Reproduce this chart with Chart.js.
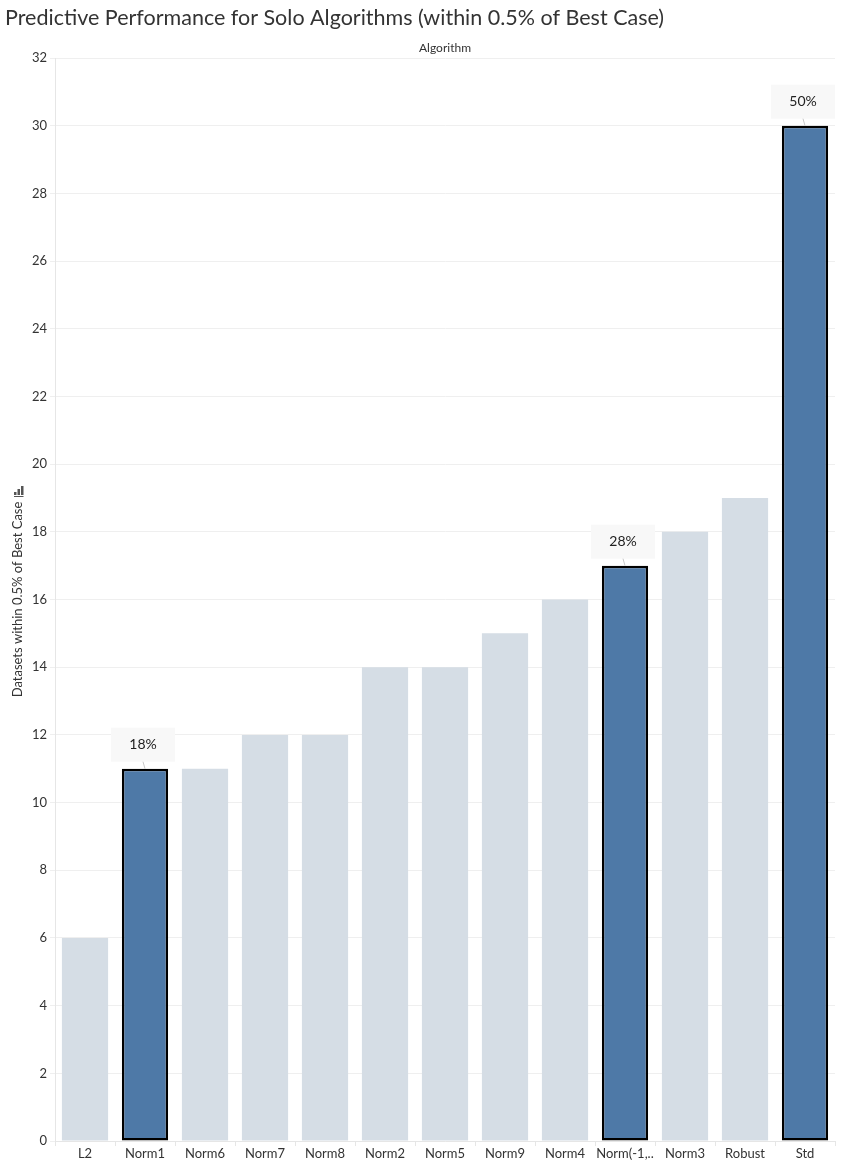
<!DOCTYPE html>
<html>
<head>
<meta charset="utf-8">
<script src="https://cdn.jsdelivr.net/npm/chart.js@4"></script>
<style>
  html, body { margin: 0; padding: 0; background: #fff; }
  #wrap { width: 843px; height: 1165px; position: relative; }
</style>
</head>
<body>
<div id="wrap"><canvas id="solo-chart"></canvas></div>
<script>
const algorithms = ['L2', 'Norm1', 'Norm6', 'Norm7', 'Norm8', 'Norm2', 'Norm5', 'Norm9', 'Norm4', 'Norm(-1,..', 'Norm3', 'Robust', 'Std'];
const datasetCounts = [6, 11, 11, 12, 12, 14, 14, 15, 16, 17, 18, 19, 30];
const highlighted = [false, true, false, false, false, false, false, false, false, true, false, false, true];
const pctLabels = [null, '18%', null, null, null, null, null, null, null, '28%', null, null, '50%'];
const yTicks = [0, 2, 4, 6, 8, 10, 12, 14, 16, 18, 20, 22, 24, 26, 28, 30, 32];

const FONT = 'Lato, "Noto Sans", sans-serif';
const BLUE = '#4e79a7';
const GREY = '#d5dde5';

// titles and the little callout boxes over highlighted bars
const extras = {
    id: 'extras',
    afterDraw(chart) {
        const ctx = chart.ctx;
        const area = chart.chartArea;
        ctx.save();
        ctx.fillStyle = '#333';
        ctx.font = '21.5px ' + FONT;
        ctx.textAlign = 'left';
        ctx.textBaseline = 'middle';
        ctx.fillText('Predictive Performance for Solo Algorithms (within 0.5% of Best Case)', 5, 18);

        ctx.font = '12px ' + FONT;
        ctx.textAlign = 'center';
        ctx.fillText('Algorithm', (area.left + area.right) / 2, 48);

        // sort icon above the y title
        ctx.fillStyle = '#555';
        ctx.fillRect(14, 492, 2.5, 3);
        ctx.fillRect(17.5, 489, 2.5, 6);
        ctx.fillRect(21, 486, 2.5, 9);
        ctx.fillRect(14, 496, 9.5, 1);

        const meta = chart.getDatasetMeta(0);
        meta.data.forEach((bar, i) => {
            if (!pctLabels[i]) return;
            const w = 64, h = 34;
            const bx = bar.x - 2;
            const bottom = bar.y - 7;
            ctx.fillStyle = '#f8f8f8';
            ctx.fillRect(bx - w / 2, bottom - h, w, h);
            ctx.strokeStyle = '#c8c8c8';
            ctx.lineWidth = 1;
            ctx.beginPath();
            ctx.moveTo(bx, bottom);
            ctx.lineTo(bar.x, bar.y);
            ctx.stroke();
            ctx.fillStyle = '#222';
            ctx.font = '14px ' + FONT;
            ctx.textAlign = 'center';
            ctx.textBaseline = 'middle';
            ctx.fillText(pctLabels[i], bx, bottom - h / 2);
        });
        ctx.restore();
    }
};

function createChart() {
    const ctx = document.getElementById('solo-chart').getContext('2d');

    new Chart(ctx, {
        type: 'bar',
        data: {
            labels: algorithms,
            datasets: [
                {
                    label: 'Datasets within 0.5% of Best Case',
                    data: datasetCounts,
                    backgroundColor: highlighted.map(h => h ? BLUE : GREY),
                    borderColor: highlighted.map(h => h ? '#000' : GREY),
                    borderWidth: highlighted.map(h => h ? 2.5 : 0),
                    borderSkipped: false,
                    barPercentage: 0.77,
                    categoryPercentage: 1,
                },
            ],
        },
        options: {
            responsive: true,
            maintainAspectRatio: false,
            animation: false,
            layout: { padding: { top: 58, right: 8, left: 0, bottom: 0 } },
            plugins: {
                legend: { display: false },
                tooltip: { enabled: false },
            },
            scales: {
                x: {
                    grid: {
                        display: true,
                        drawOnChartArea: false,
                        tickLength: 5,
                        color: '#e6e6e6',
                    },
                    border: { display: true, color: '#e6e6e6' },
                    ticks: {
                        color: '#333',
                        font: { family: FONT, size: 13 },
                        padding: 0,
                        maxRotation: 0,
                        autoSkip: false,
                    },
                    afterFit(scale) { scale.height = 24; },
                },
                y: {
                    min: 0,
                    max: 32,
                    afterBuildTicks(scale) { scale.ticks = yTicks.map(v => ({ value: v })); },
                    grid: { color: '#efefef', tickLength: 5 },
                    border: { display: true, color: '#e6e6e6' },
                    ticks: {
                        color: '#333',
                        font: { family: FONT, size: 13 },
                        padding: 3,
                    },
                    title: {
                        display: true,
                        text: 'Datasets within 0.5% of Best Case',
                        color: '#333',
                        font: { family: FONT, size: 13 },
                        padding: { top: 10, bottom: 0 },
                    },
                    afterFit(scale) { scale.width = 55; },
                },
            },
        },
        plugins: [extras],
    });
}

createChart();
</script>
</body>
</html>
